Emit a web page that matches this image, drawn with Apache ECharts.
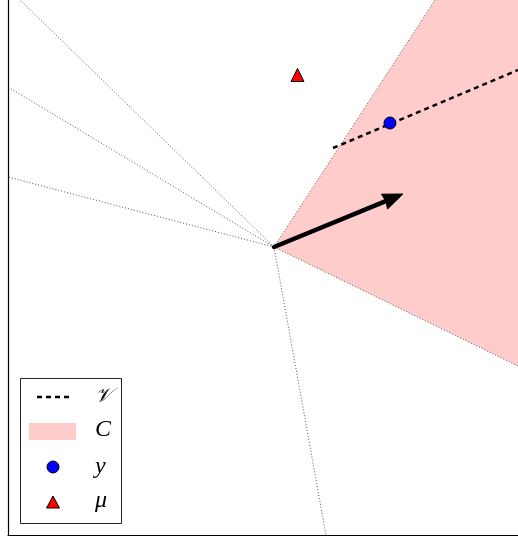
<!DOCTYPE html>
<html><head><meta charset="utf-8">
<script src="https://cdn.jsdelivr.net/npm/echarts@6/dist/echarts.min.js"></script>
<style>html,body{margin:0;padding:0;background:#fff}#c{width:518px;height:538px}</style>
</head><body><div id="c"></div>
<script>
// data (1 unit = one grid step, origin at the cone apex)
const origin = [0, 0];
const rayEnds = [[-2.54, 2.47], [-2.66, 1.60], [-2.66, 0.70], [0.52, -2.88]];
const coneEdges = [[1.61, 2.47], [2.44, -1.19]];
const coneCorner = [2.44, 2.47];
const subspaceLine = [[0.59, 0.99], [2.44, 1.77]];
const pointY = [1.16, 1.24];
const pointMu = [0.235, 1.72];
const arrowEnd = [1.29, 0.53];
const legendLabels = ['𝒱', 'C', 'y', 'μ'];
const xRange = [-2.66, 2.44];
const yRange = [-2.88, 2.47];

const conePoly = [origin, coneEdges[0], coneCorner, coneEdges[1]];
const allRays = rayEnds.concat(coneEdges).map(e => ({coords: [origin, e]}));

const chart = echarts.init(document.getElementById('c'));
const serif = "'Liberation Serif', 'DejaVu Serif', serif";
const labelLayout = [{y: 397, size: 20}, {y: 430, size: 24}, {y: 467, size: 24}, {y: 501, size: 24}];
chart.setOption({
  animation: false,
  grid: {left: 8, right: 0, top: 0, bottom: 3},
  xAxis: {type: 'value', min: xRange[0], max: xRange[1], axisLine: {onZero: false, lineStyle: {color: '#000', width: 1.2}},
          axisTick: {show: false}, axisLabel: {show: false}, splitLine: {show: false}},
  yAxis: {type: 'value', min: yRange[0], max: yRange[1], axisLine: {show: true, onZero: false, lineStyle: {color: '#000', width: 1.2}},
          axisTick: {show: false}, axisLabel: {show: false}, splitLine: {show: false}},
  series: [
    {
      type: 'custom', name: 'C', clip: true, z: 1,
      data: [0],
      renderItem: function (params, api) {
        return {type: 'polygon', shape: {points: conePoly.map(p => api.coord(p))},
                style: {fill: '#ffcccc', stroke: 'none'}};
      }
    },
    {
      type: 'lines', coordinateSystem: 'cartesian2d', z: 2, silent: true,
      lineStyle: {color: '#444', width: 0.9, type: [1, 2], opacity: 1},
      data: allRays
    },
    {
      type: 'lines', coordinateSystem: 'cartesian2d', z: 3, silent: true,
      lineStyle: {color: '#000', width: 2.5, type: [5, 4], opacity: 1},
      data: [{coords: subspaceLine}]
    },
    {
      type: 'custom', z: 4, silent: true,
      data: [0],
      renderItem: function (params, api) {
        const a = api.coord(origin), b = api.coord(arrowEnd);
        const dx = b[0] - a[0], dy = b[1] - a[1];
        const L = Math.sqrt(dx * dx + dy * dy);
        const ux = dx / L, uy = dy / L, nx = -uy, ny = ux;
        const headLen = 20, headHalf = 8;
        const bx = b[0] - ux * headLen, by = b[1] - uy * headLen;
        return {type: 'group', children: [
          {type: 'line', shape: {x1: a[0], y1: a[1], x2: bx + ux * 2, y2: by + uy * 2},
           style: {stroke: '#000', lineWidth: 4.5, lineCap: 'round'}},
          {type: 'polygon', shape: {points: [[b[0], b[1]], [bx + nx * headHalf, by + ny * headHalf],
                                             [bx + ux * 1.5, by + uy * 1.5], [bx - nx * headHalf, by - ny * headHalf]]},
           style: {fill: '#000', stroke: '#000', lineWidth: 1, lineJoin: 'round'}}
        ]};
      }
    },
    {
      type: 'scatter', name: 'y', z: 5, symbol: 'circle', symbolSize: 12,
      itemStyle: {color: '#0000ff', borderColor: '#000', borderWidth: 1, opacity: 1},
      data: [pointY]
    },
    {
      type: 'scatter', name: 'μ', z: 5, symbol: 'triangle', symbolSize: 13,
      itemStyle: {color: '#ff0000', borderColor: '#000', borderWidth: 1, opacity: 1},
      data: [pointMu]
    }
  ],
  graphic: [
    {type: 'rect', shape: {x: 20.5, y: 378.5, width: 101, height: 145}, style: {fill: '#fff', stroke: '#222', lineWidth: 1}, z: 10},
    {type: 'line', shape: {x1: 37, y1: 397, x2: 69, y2: 397}, style: {stroke: '#000', lineWidth: 2.5, lineDash: [5, 4]}, z: 11},
    {type: 'rect', shape: {x: 29, y: 423, width: 47, height: 17}, style: {fill: '#ffcccc'}, z: 11},
    {type: 'circle', shape: {cx: 53, cy: 467, r: 6}, style: {fill: '#0000ff', stroke: '#000', lineWidth: 1}, z: 11},
    {type: 'polygon', shape: {points: [[53, 496], [59.5, 508], [46.5, 508]]}, style: {fill: '#ff0000', stroke: '#000', lineWidth: 1}, z: 11},
  ].concat(legendLabels.map((t, i) => ({
    type: 'text', z: 11, x: 95, y: labelLayout[i].y,
    style: {text: t, font: 'italic ' + labelLayout[i].size + 'px ' + serif, fill: '#000', verticalAlign: 'middle'}
  })))
});
</script></body></html>
